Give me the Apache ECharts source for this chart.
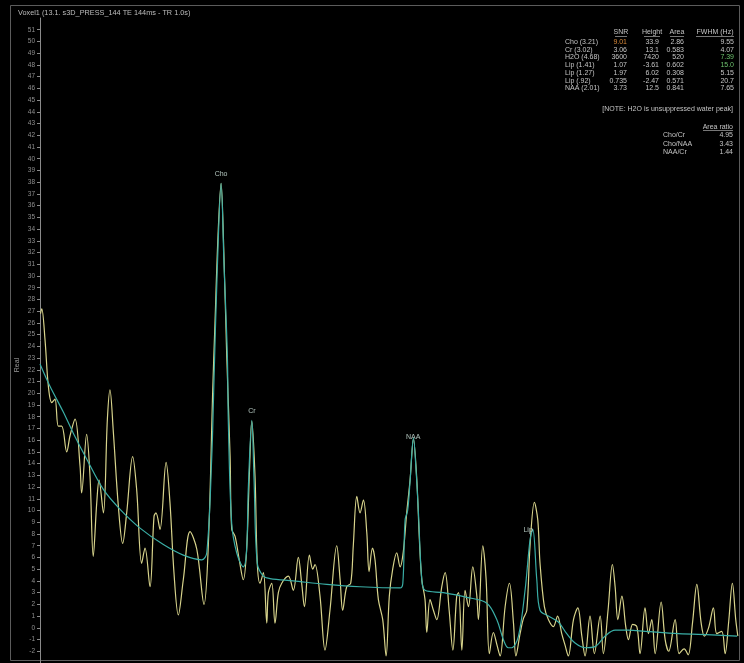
<!DOCTYPE html>
<html>
<head>
<meta charset="utf-8">
<script src="https://cdn.jsdelivr.net/npm/echarts@6/dist/echarts.min.js"></script>
<style>
html,body{margin:0;padding:0;background:#000;}
#chart{width:744px;height:663px;}
</style>
</head>
<body>
<div id="chart"></div>
<script>
// ---- data (ppm, real intensity) ----
const spectrumPpm = [4.337,4.329,4.309,4.288,4.267,4.247,4.226,4.205,4.174,4.153,4.122,4.091,4.081,4.050,4.029,4.009,3.987,3.973,3.946,3.921,3.905,3.884,3.853,3.826,3.801,3.764,3.739,3.708,3.687,3.656,3.631,3.619,3.594,3.556,3.532,3.507,3.480,3.449,3.407,3.365,3.320,3.293,3.266,3.252,3.233,3.214,3.199,3.179,3.158,3.148,3.127,3.101,3.076,3.055,3.038,3.023,3.003,2.989,2.972,2.951,2.930,2.920,2.899,2.879,2.858,2.837,2.796,2.765,2.734,2.713,2.696,2.665,2.644,2.630,2.599,2.568,2.537,2.495,2.474,2.458,2.433,2.408,2.392,2.370,2.350,2.329,2.308,2.294,2.273,2.257,2.236,2.209,2.188,2.168,2.147,2.122,2.101,2.081,2.060,2.039,2.018,1.997,1.981,1.966,1.946,1.935,1.915,1.894,1.873,1.842,1.821,1.796,1.773,1.749,1.737,1.717,1.697,1.676,1.649,1.624,1.614,1.587,1.566,1.546,1.521,1.498,1.479,1.448,1.421,1.396,1.381,1.355,1.334,1.313,1.293,1.266,1.245,1.231,1.204,1.179,1.148,1.122,1.096,1.075,1.055,1.023,0.996,0.971,0.951,0.920,0.893,0.857,0.837,0.808,0.781,0.764,0.747,0.722,0.698,0.681,0.655,0.629,0.609,0.578,0.557,0.536,0.515,0.478,0.453,0.431,0.391,0.366,0.335,0.310,0.283,0.256,0.229,0.209,0.183,0.153,0.132,0.101,0.080,0.058,0.035,0.014,0.001];
const spectrumReal = [26.8,27.2,24.6,20.6,19.2,19.5,17.2,17.2,15.0,16.4,17.8,13.8,11.5,16.5,12.9,6.1,10.7,12.6,9.8,17.8,20.3,16.7,10.4,7.2,9.8,14.6,11.8,5.5,6.8,3.5,9.5,9.8,8.4,14.1,10.7,4.7,1.1,4.1,8.2,6.7,2.0,7.2,20.3,26.0,33.5,37.9,33.0,23.2,14.6,8.4,7.8,5.8,4.1,6.7,13.2,17.6,12.9,5.5,3.8,4.7,0.4,3.0,3.8,0.4,3.0,3.8,4.4,3.2,6.0,3.8,1.8,6.2,5.0,5.4,2.7,-1.9,1.5,7.0,4.1,1.5,3.5,3.8,7.0,11.2,9.8,10.9,8.1,4.8,6.8,5.8,2.4,0.7,-2.4,2.7,5.0,6.4,5.2,6.5,9.8,12.6,16.1,12.6,7.5,4.1,2.4,-0.4,2.4,1.5,0.7,3.5,4.7,1.5,-1.9,2.7,3.0,-1.9,3.2,1.8,5.2,2.7,0.7,7.0,4.1,-2.2,-0.4,-1.5,-2.4,1.8,3.8,0.4,-2.4,-0.5,0.8,1.5,7.0,10.7,9.2,5.5,1.8,0.7,0.1,1.0,-0.5,-1.5,-2.4,0.7,1.7,-0.7,-2.4,1.0,-2.2,1.0,-2.2,1.5,5.4,3.5,0.7,2.7,0.1,-1.0,0.3,0.1,-2.2,1.7,-0.5,0.7,-2.2,2.2,-1.0,-2.0,0.7,-2.2,-1.8,-2.3,0.4,3.7,0.4,-0.7,0.0,1.7,-0.5,-0.3,-2.2,0.5,3.8,0.7,-0.7];
const fitPpm = [4.340,4.278,4.195,4.133,4.050,3.946,3.842,3.718,3.573,3.449,3.334,3.303,3.272,3.258,3.239,3.214,3.196,3.175,3.169,3.148,3.117,3.076,3.056,3.045,3.023,3.009,2.989,2.951,2.910,2.765,2.557,2.350,2.101,2.084,2.070,2.054,2.039,2.018,2.002,1.987,1.966,1.946,1.832,1.686,1.562,1.500,1.459,1.428,1.407,1.365,1.324,1.293,1.276,1.251,1.231,1.179,1.117,1.065,1.013,0.951,0.889,0.826,0.764,0.681,0.578,0.371,0.163,0.005];
const fitReal = [22.5,20.6,18.4,16.6,14.4,11.8,10.1,8.5,7.1,6.2,5.8,6.4,14.6,21.2,30.0,37.9,31.0,23.2,17.5,8.9,6.4,5.2,6.5,11.8,17.7,12.6,5.5,4.4,4.2,4.0,3.7,3.5,3.4,3.8,9.2,10.0,12.5,16.2,13.5,9.8,4.1,3.2,3.0,2.6,2.1,0.7,-1.0,-1.7,-1.7,-0.7,3.2,7.5,8.4,4.1,1.5,1.0,0.5,-0.5,-1.3,-1.7,-1.6,-0.7,-0.2,-0.2,-0.3,-0.5,-0.6,-0.7];
const peakNames = ['Cho','Cr','NAA','Lip'];
const peakPpm = [3.214,3.022,2.020,1.305];
const peakLabelY = [38.7,18.5,16.3,8.3];
const yAxisMin = -3;
const yAxisMax = 52;
// results table
const tableHeaders = ['SNR','Height','Area','FWHM (Hz)'];
const metNames = ['Cho (3.21)','Cr (3.02)','H2O (4.68)','Lip (1.41)','Lip (1.27)','Lip (.92)','NAA (2.01)'];
const snrValues = ['9.01','3.06','3600','1.07','1.97','0.735','3.73'];
const heightValues = ['33.9','13.1','7420','-3.61','6.02','-2.47','12.5'];
const areaValues = ['2.86','0.583','520','0.602','0.308','0.571','0.841'];
const fwhmValues = ['9.55','4.07','7.39','15.0','5.15','20.7','7.65'];
const ratioNames = ['Cho/Cr','Cho/NAA','NAA/Cr'];
const ratioValues = ['4.95','3.43','1.44'];
const titleText = 'Voxel1 (13.1. s3D_PRESS_144 TE 144ms - TR 1.0s)';
const noteText = '[NOTE: H2O is unsuppressed water peak]';

const FONT = 'Liberation Sans';
const TXT = '#c4c4c4';
const g = [];
function txt(x, y, s, align, color, size) {
  g.push({type:'text', x:x, y:y, style:{text:s, fill:color||TXT, font:(size||7)+'px "'+FONT+'"', textAlign:align||'left', textVerticalAlign:'middle'}});
}
function hline(x1, x2, y) {
  g.push({type:'line', shape:{x1:x1, y1:y, x2:x2, y2:y}, style:{stroke:'#aaa', lineWidth:0.7}});
}
// frame
g.push({type:'rect', shape:{x:10.5, y:5.5, width:729, height:655}, style:{fill:'none', stroke:'#5c5c5c', lineWidth:1}, z:-1});
txt(18, 13, titleText, 'left', '#bdbdbd', 7.3);
g.push({type:'text', x:17, y:365, rotation:Math.PI/2, style:{text:'Real', fill:'#9a9a9a', font:'7px "'+FONT+'"', textAlign:'center', textVerticalAlign:'middle'}});
// table
const colRight = [627, 659, 684, 734];
const headCenter = [621, 652, 677, 715];
const headHalf = [6, 8, 7, 19];
tableHeaders.forEach((h, i) => { txt(headCenter[i], 32.5, h, 'center'); hline(headCenter[i]-headHalf[i], headCenter[i]+headHalf[i], 36.5); });
const rowY = [42, 49.8, 57.5, 65.2, 73, 80.8, 88.5];
metNames.forEach((n, r) => {
  txt(565, rowY[r], n, 'left');
  txt(colRight[0], rowY[r], snrValues[r], 'right', r === 0 ? '#d98a3a' : TXT);
  txt(colRight[1], rowY[r], heightValues[r], 'right');
  txt(colRight[2], rowY[r], areaValues[r], 'right');
  txt(colRight[3], rowY[r], fwhmValues[r], 'right', (r === 2 || r === 3) ? '#6cc06c' : TXT);
});
txt(733, 109, noteText, 'right');
txt(733, 127, 'Area ratio', 'right');
hline(703, 733, 130.5);
const ratioY = [135.5, 144, 152.5];
ratioNames.forEach((n, r) => { txt(663, ratioY[r], n, 'left'); txt(733, ratioY[r], ratioValues[r], 'right'); });

const chart = echarts.init(document.getElementById('chart'), null, {renderer:'canvas'});
chart.setOption({
  backgroundColor:'#000',
  animation:false,
  grid:{left:40, right:6, top:18, bottom:0},
  xAxis:{type:'value', min:0, max:4.34, inverse:true, show:false},
  yAxis:{type:'value', position:'left', min:yAxisMin, max:yAxisMax, interval:1,
    axisLine:{show:true, onZero:false, lineStyle:{color:'#8a8a8a', width:1}},
    axisTick:{show:true, length:3, lineStyle:{color:'#8a8a8a'}},
    axisLabel:{show:true, margin:5, fontSize:6.5, color:'#8f8f8f', fontFamily:FONT, showMinLabel:false, showMaxLabel:false},
    splitLine:{show:false}},
  series:[
    {type:'line', name:'Data', data:spectrumPpm.map((p,i)=>[p, spectrumReal[i]]), showSymbol:false, smooth:0.35,
      lineStyle:{color:'#d8d48c', width:1.2}, clip:true, z:2},
    {type:'line', name:'Fit', data:fitPpm.map((p,i)=>[p, fitReal[i]]), showSymbol:false, smooth:0.35,
      lineStyle:{color:'#3aaea6', width:1.2}, clip:true, z:3},
    {type:'scatter', data:peakPpm.map((p,i)=>({value:[p, peakLabelY[i]], name:peakNames[i]})), symbolSize:0,
      label:{show:true, position:'inside', formatter:'{b}', color:'#d8efe6', fontSize:7, fontFamily:FONT}, z:4}
  ],
  graphic:g
});
</script>
</body>
</html>
